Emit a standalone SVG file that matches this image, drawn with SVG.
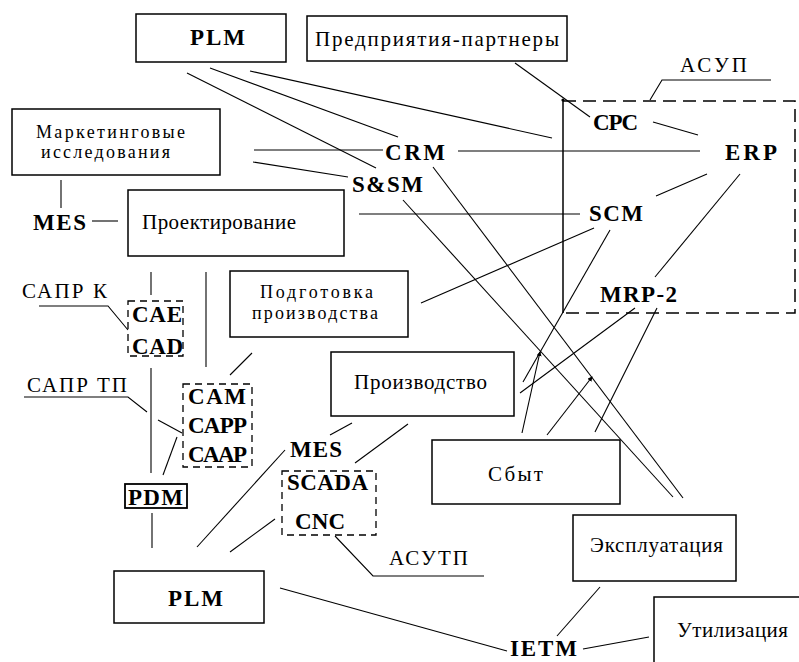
<svg xmlns="http://www.w3.org/2000/svg" width="799" height="662" viewBox="0 0 799 662">
<style>
.box{fill:#fff;stroke:#000;stroke-width:1.5}
.dbox{fill:none;stroke:#000;stroke-width:1.3;stroke-dasharray:7,5}
.ln{fill:none;stroke:#000;stroke-width:1.1}
.t{font-family:"Liberation Serif","Times New Roman",serif;font-size:21px;fill:#000}
.t2{font-family:"Liberation Serif","Times New Roman",serif;font-size:18px;fill:#000}
.b{font-family:"Liberation Serif","Times New Roman",serif;font-size:23px;font-weight:bold;fill:#000}
</style>
<defs>
<marker id="ah" viewBox="0 0 6 6" refX="5" refY="3" markerWidth="5" markerHeight="5" orient="auto" markerUnits="userSpaceOnUse">
<path d="M0,0 L6,3 L0,6 z" fill="#000"/>
</marker>
</defs>
<rect width="799" height="662" fill="#fff"/>
<g id="connectors">
<line class="ln" x1="187" y1="73" x2="376" y2="168"/>
<line class="ln" x1="210" y1="68" x2="398" y2="137"/>
<line class="ln" x1="250" y1="71" x2="552" y2="138"/>
<line class="ln" x1="254" y1="150" x2="383" y2="150"/>
<line class="ln" x1="253" y1="162" x2="348" y2="177"/>
<line class="ln" x1="61" y1="180" x2="61" y2="208"/>
<line class="ln" x1="92" y1="221" x2="118" y2="221"/>
<line class="ln" x1="458" y1="151" x2="700" y2="151"/>
<line class="ln" x1="359" y1="214" x2="580" y2="214"/>
<line class="ln" x1="563" y1="100" x2="563" y2="313" style="stroke-width:1.5"/>
<path d="M563,101 H795 V313 H563" fill="none" stroke="#000" stroke-width="1.5" stroke-dasharray="13,7"/>
<polyline class="ln" points="650,100 662,80 771,80"/>
<line class="ln" x1="515" y1="63" x2="590" y2="117"/>
<circle cx="563" cy="100" r="1.6" fill="#000"/>
<line class="ln" x1="653" y1="122" x2="698" y2="135"/>
<line class="ln" x1="707" y1="174" x2="656" y2="196"/>
<line class="ln" x1="740" y1="174" x2="655" y2="277"/>
<line class="ln" x1="594" y1="228" x2="421" y2="303"/>
<line class="ln" x1="610" y1="230" x2="523" y2="382"/>
<line class="ln" x1="635" y1="308" x2="520" y2="393"/>
<line class="ln" x1="657" y1="308" x2="595" y2="432"/>
<line class="ln" x1="522" y1="433" x2="540" y2="352" marker-end="url(#ah)"/>
<line class="ln" x1="547" y1="435" x2="592" y2="377" marker-end="url(#ah)"/>
<line class="ln" x1="433" y1="167" x2="683" y2="498"/>
<line class="ln" x1="403" y1="200" x2="673" y2="497"/>
<line class="ln" x1="151" y1="272" x2="151" y2="295"/>
<line class="ln" x1="206" y1="272" x2="206" y2="367"/>
<line class="ln" x1="252" y1="353" x2="230" y2="375"/>
<polyline class="ln" points="39,306 108,306 128,330"/>
<line class="ln" x1="151" y1="368" x2="151" y2="473"/>
<polyline class="ln" points="24,397 128,397 147,412"/>
<line class="ln" x1="158" y1="420" x2="182" y2="433"/>
<line class="ln" x1="177" y1="437" x2="163" y2="475"/>
<line class="ln" x1="152" y1="513" x2="152" y2="548"/>
<line class="ln" x1="352" y1="423" x2="330" y2="435"/>
<line class="ln" x1="408" y1="424" x2="355" y2="463"/>
<line class="ln" x1="285" y1="450" x2="197" y2="547"/>
<line class="ln" x1="275" y1="519" x2="230" y2="552"/>
<polyline class="ln" points="335,536 373,576 484,576"/>
<line class="ln" x1="280" y1="588" x2="507" y2="651"/>
<line class="ln" x1="600" y1="587" x2="557" y2="636"/>
<line class="ln" x1="583" y1="649" x2="649" y2="637"/>
</g>
<g id="plm-top"><rect class="box" x="136" y="14" width="150" height="48"/><text class="b" x="190" y="45" textLength="55">PLM</text></g>
<g id="partners"><rect class="box" x="307" y="16" width="260" height="45"/><text class="t" x="315" y="46" textLength="244">Предприятия-партнеры</text></g>
<g id="asup"><text class="t" x="680" y="72" textLength="67">АСУП</text></g>
<g id="marketing"><rect class="box" x="12" y="109" width="208" height="66"/><text class="t2" x="36" y="138" textLength="149">Маркетинговые</text><text class="t2" x="41" y="158" textLength="129">исследования</text></g>
<g id="crm"><text class="b" x="385" y="160" textLength="60">CRM</text></g>
<g id="ssm"><text class="b" x="352" y="192" textLength="71">S&amp;SM</text></g>
<g id="cpc"><text class="b" x="593" y="130" textLength="45">CPC</text></g>
<g id="erp"><text class="b" x="725" y="160" textLength="52">ERP</text></g>
<g id="scm"><text class="b" x="589" y="221" textLength="54">SCM</text></g>
<g id="mrp2"><text class="b" x="600" y="302" textLength="77">MRP-2</text></g>
<g id="mes-left"><text class="b" x="33" y="230" textLength="53">MES</text></g>
<g id="design"><rect class="box" x="128" y="190" width="216" height="66"/><text class="t" x="142" y="229" textLength="154">Проектирование</text></g>
<g id="prep"><rect class="box" x="230" y="271" width="178" height="66"/><text class="t2" x="260" y="298" textLength="113">Подготовка</text><text class="t2" x="252" y="319" textLength="126">производства</text></g>
<g id="sapr-k"><text class="t" x="22" y="298" textLength="85">САПР К</text></g>
<g id="cae-cad"><rect class="dbox" x="128" y="301" width="55" height="55"/><text class="b" x="132" y="322" textLength="50">CAE</text><text class="b" x="132" y="354" textLength="51">CAD</text></g>
<g id="sapr-tp"><text class="t" x="27" y="392" textLength="100">САПР ТП</text></g>
<g id="cam"><rect class="dbox" x="183" y="384" width="69" height="83"/><text class="b" x="188" y="404" textLength="58">CAM</text><text class="b" x="188" y="433" textLength="59">CAPP</text><text class="b" x="188" y="462" textLength="59">CAAP</text></g>
<g id="pdm"><rect x="125" y="484" width="62" height="24" fill="#fff" stroke="#000" stroke-width="1.8"/><text class="b" x="128" y="505" textLength="55">PDM</text></g>
<g id="production"><rect class="box" x="331" y="352" width="183" height="64"/><text class="t" x="354" y="389" textLength="133">Производство</text></g>
<g id="mes-mid"><text class="b" x="290" y="457" textLength="52">MES</text></g>
<g id="scada-cnc"><rect class="dbox" x="282" y="471" width="94" height="64"/><text class="b" x="287" y="490" textLength="81">SCADA</text><text class="b" x="295" y="529" textLength="50">CNC</text></g>
<g id="asutp"><text class="t" x="389" y="565" textLength="79">АСУТП</text></g>
<g id="sales"><rect class="box" x="432" y="440" width="188" height="64"/><text class="t" x="488" y="481" textLength="55">Сбыт</text></g>
<g id="operation"><rect class="box" x="573" y="515" width="163" height="66"/><text class="t" x="590" y="552" textLength="133">Эксплуатация</text></g>
<g id="plm-bottom"><rect class="box" x="114" y="571" width="150" height="52"/><text class="b" x="168" y="606" textLength="55">PLM</text></g>
<g id="ietm"><text class="b" x="510" y="656" textLength="67">IETM</text></g>
<g id="disposal"><rect class="box" x="654" y="597" width="160" height="80"/><text class="t" x="677" y="637" textLength="111">Утилизация</text></g>
</svg>
